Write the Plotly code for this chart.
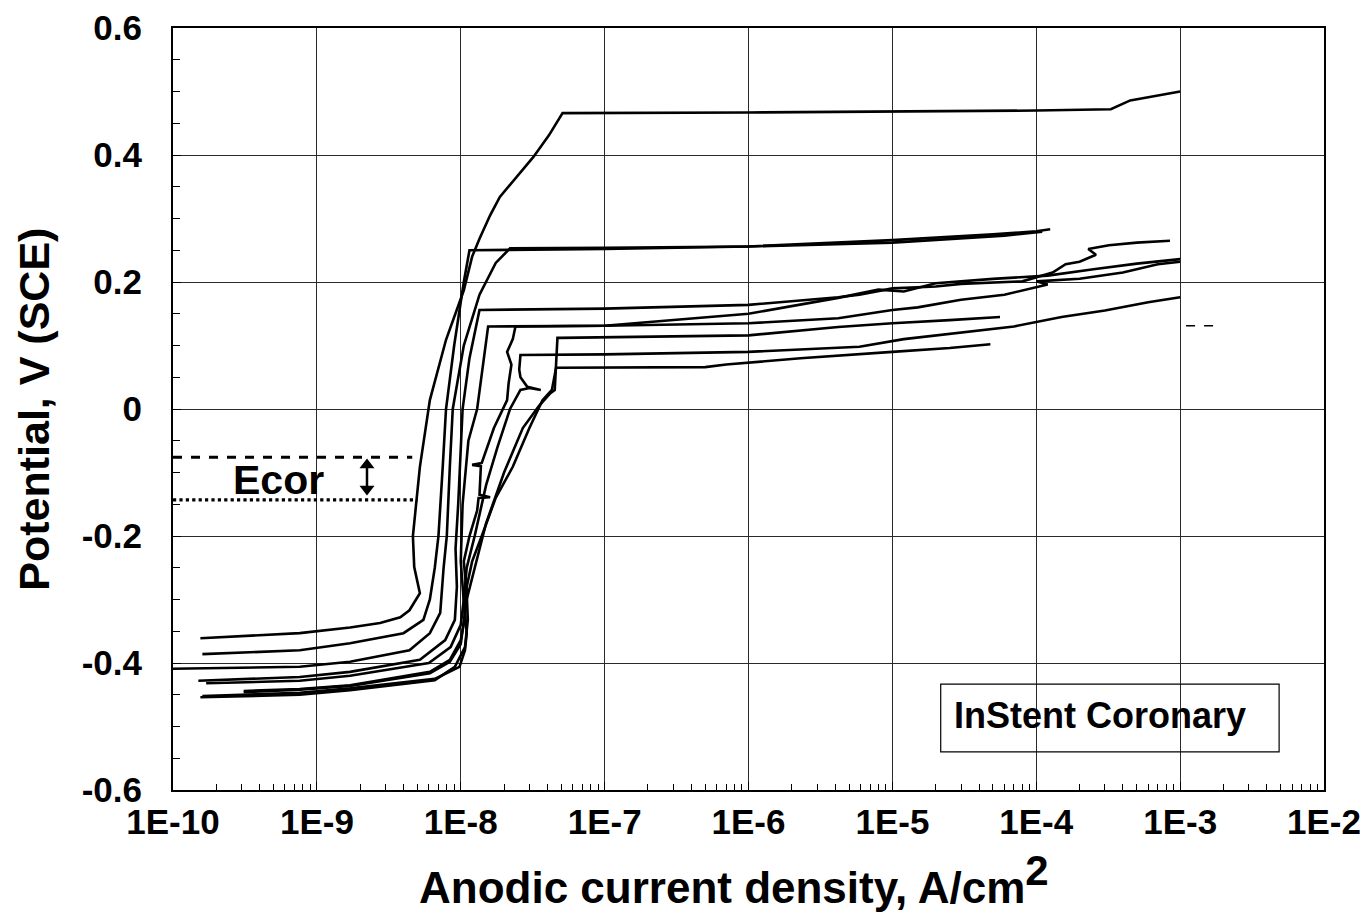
import plotly.graph_objects as go

# ---------------- tick labels ----------------
x_tickvals = [1e-10, 1e-9, 1e-8, 1e-7, 1e-6, 1e-5, 1e-4, 1e-3, 1e-2]
x_ticktext = ["1E-10", "1E-9", "1E-8", "1E-7", "1E-6", "1E-5", "1E-4", "1E-3", "1E-2"]
y_tickvals = [-0.6, -0.4, -0.2, 0, 0.2, 0.4, 0.6]
y_ticktext = ["-0.6", "-0.4", "-0.2", "0", "0.2", "0.4", "0.6"]

# ---------------- polarization curves (current A/cm2, potential V) ----------------
c1_i = [1.55e-10, 7.6e-10, 1.7e-9, 2.75e-9, 3.8e-9, 4.4e-9, 5.2e-9, 4.75e-9, 4.65e-9, 5.2e-9, 6.1e-9,
        7.9e-9, 1.05e-8, 1.2e-8, 1.35e-8, 1.6e-8, 1.87e-8, 2.5e-8, 3.2e-8, 4.1e-8, 5.1e-8, 1e-6, 1e-5, 1e-4, 3.3e-4,
        4.0e-4, 4.5e-4, 6e-4, 8e-4, 1e-3]
c1_v = [-0.361, -0.353, -0.344, -0.337, -0.328, -0.317, -0.29, -0.249, -0.20, -0.091, 0.014,
        0.109, 0.187, 0.240, 0.268, 0.305, 0.334, 0.368, 0.397, 0.431, 0.466, 0.467, 0.468, 0.470, 0.472,
        0.480, 0.486, 0.491, 0.496, 0.500]

c2_i = [1.6e-10, 7.6e-10, 1.7e-9, 4e-9, 5.5e-9, 6.1e-9, 6.6e-9, 7.0e-9, 7.5e-9, 7.9e-9, 9e-9,
        1.05e-8, 1.15e-8, 1e-7, 1e-6, 1e-5, 5e-5, 1e-4, 1.25e-4]
c2_v = [-0.386, -0.380, -0.369, -0.353, -0.332, -0.30, -0.25, -0.20, -0.09, 0.0, 0.10,
        0.20, 0.25, 0.252, 0.256, 0.266, 0.275, 0.280, 0.283]

c3_i = [1e-10, 7.6e-10, 1.7e-9, 4.4e-9, 6.1e-9, 7.2e-9, 7.6e-9, 8.0e-9, 8.4e-9, 8.8e-9, 1.05e-8,
        1.35e-8, 1.75e-8, 2.2e-8, 1e-7, 1e-6, 1e-5, 6e-5, 1.1e-4]
c3_v = [-0.409, -0.406, -0.398, -0.38, -0.353, -0.321, -0.25, -0.20, -0.09, 0.0, 0.10,
        0.18, 0.23, 0.253, 0.254, 0.256, 0.262, 0.273, 0.279]

c4_i = [1.5e-10, 7.6e-10, 1.7e-9, 5.2e-9, 7.8e-9, 9.1e-9, 9.4e-9, 9.2e-9, 9.6e-9, 1.03e-8, 1.15e-8,
        1.3e-8, 1.35e-8, 1e-7, 1e-6, 4.2e-6, 5.9e-6, 1e-5, 2e-5, 3e-5, 8e-5, 1.3e-4,
        1.6e-4, 2e-4, 2.6e-4, 2.3e-4, 3.2e-4, 5e-4, 8.5e-4]
c4_v = [-0.428, -0.422, -0.414, -0.395, -0.364, -0.332, -0.28, -0.22, -0.15, 0.0, 0.08,
        0.14, 0.156, 0.158, 0.164, 0.176, 0.180, 0.190, 0.193, 0.197, 0.201, 0.215,
        0.228, 0.232, 0.243, 0.252, 0.258, 0.262, 0.265]

c5_i = [3.1e-10, 7.6e-10, 1.7e-9, 6.1e-9, 8.4e-9, 1.0e-8, 1.07e-8, 1.03e-8, 1.0e-8, 1.03e-8, 1.13e-8,
        1.3e-8, 1.45e-8, 1.55e-8, 1e-7, 1e-6, 4.2e-6, 1e-5, 1.5e-5, 3e-5, 6e-5, 1.2e-4,
        1.0e-4, 2e-4, 4e-4, 7e-4, 1e-3]
c5_v = [-0.444, -0.441, -0.435, -0.414, -0.395, -0.364, -0.328, -0.28, -0.24, -0.15, -0.05,
        0.0, 0.08, 0.13, 0.131, 0.135, 0.143, 0.156, 0.160, 0.172, 0.180, 0.196,
        0.201, 0.205, 0.215, 0.228, 0.232]

c6_i = [1.55e-10, 7.6e-10, 1.7e-9, 6.6e-9, 9.1e-9, 1.07e-8, 1.12e-8, 1.1e-8, 1.05e-8, 1.15e-8, 1.3e-8,
        1.33e-8, 1.6e-8, 1.35e-8, 1.38e-8, 1.2e-8, 1.4e-8, 1.7e-8, 2.1e-8, 2.15e-8, 2.25e-8,
        2.1e-8, 2.3e-8, 2.4e-8, 1e-7, 1e-6, 4.2e-6, 8e-6, 1.2e-5, 2e-5, 5e-5, 1.2e-4,
        2.5e-4, 5e-4, 1e-3]
c6_v = [-0.454, -0.450, -0.443, -0.427, -0.406, -0.375, -0.332, -0.29, -0.24, -0.20, -0.16,
        -0.14, -0.139, -0.135, -0.09, -0.088, -0.085, -0.03, 0.014, 0.04, 0.07,
        0.09, 0.11, 0.13, 0.131, 0.150, 0.175, 0.188, 0.185, 0.198, 0.205, 0.210,
        0.220, 0.229, 0.236]

c7_i = [1.7e-10, 7.6e-10, 1.7e-9, 6e-9, 8.5e-9, 1.0e-8, 1.05e-8, 1.1e-8, 1.25e-8, 1.5e-8, 1.8e-8,
        2.2e-8, 2.6e-8, 3.0e-8, 3.6e-8, 2.9e-8, 2.6e-8, 2.55e-8, 2.6e-8, 1e-7, 1e-6,
        5.9e-6, 1.2e-5, 3e-5, 7e-5, 1.5e-4, 3e-4, 6e-4, 1e-3]
c7_v = [-0.432, -0.428, -0.420, -0.400, -0.375, -0.34, -0.30, -0.25, -0.20, -0.12, -0.06,
        0.0, 0.03, 0.033, 0.03, 0.035, 0.05, 0.062, 0.085, 0.086, 0.090,
        0.098, 0.110, 0.120, 0.130, 0.145, 0.155, 0.168, 0.176]

c8_i = [1.6e-10, 7.6e-10, 1.7e-9, 6.6e-9, 9.8e-9, 1.07e-8, 1.1e-8, 1.07e-8, 1.1e-8, 1.2e-8, 1.4e-8,
        1.75e-8, 2.3e-8, 3.0e-8, 3.7e-8, 4.3e-8, 4.6e-8, 5e-7, 7e-7, 2.3e-6, 1e-5,
        2.5e-5, 4.8e-5]
c8_v = [-0.452, -0.447, -0.440, -0.425, -0.406, -0.38, -0.353, -0.32, -0.28, -0.24, -0.20,
        -0.14, -0.091, -0.03, 0.014, 0.03, 0.065, 0.066, 0.070, 0.080, 0.090,
        0.096, 0.102]

c9_i = [3.1e-10, 7.6e-10, 1.7e-9, 6.1e-9, 8.4e-9, 1.0e-8, 1.1e-8, 1.25e-8, 1.5e-8, 2.0e-8, 2.7e-8,
        3.5e-8, 4.2e-8, 4.5e-8, 4.6e-8, 4.7e-8, 4.9e-8, 1e-6, 4.2e-6, 1e-5, 2.5e-5, 5.6e-5]
c9_v = [-0.446, -0.442, -0.436, -0.416, -0.398, -0.37, -0.30, -0.25, -0.18, -0.10, -0.03,
        0.005, 0.025, 0.03, 0.07, 0.112, 0.112, 0.116, 0.129, 0.135, 0.140, 0.145]

# small stray trace segment right of 1E-3
s1_i = [1.1e-3, 1.7e-3]
s1_v = [0.131, 0.131]

# Ecor marker lines and double arrow
ecor_hi_i = [1e-10, 4.6e-9]
ecor_hi_v = [-0.076, -0.076]
ecor_lo_i = [1e-10, 5.0e-9]
ecor_lo_v = [-0.143, -0.143]
arrow_i = [2.23e-9, 2.23e-9]
arrow_v = [-0.088, -0.126]

curves = [(c1_i, c1_v), (c2_i, c2_v), (c3_i, c3_v), (c4_i, c4_v), (c5_i, c5_v),
          (c6_i, c6_v), (c7_i, c7_v), (c8_i, c8_v), (c9_i, c9_v)]

FONT = "Liberation Sans, Arial, Helvetica, sans-serif"

fig = go.Figure()
for ci, cv in curves:
    fig.add_trace(go.Scatter(x=ci, y=cv, mode="lines",
                             line=dict(color="black", width=2.6),
                             showlegend=False, hoverinfo="skip"))
fig.add_trace(go.Scatter(x=s1_i, y=s1_v, mode="lines",
                         line=dict(color="black", width=1.5, dash="dash"),
                         showlegend=False, hoverinfo="skip"))
fig.add_trace(go.Scatter(x=ecor_hi_i, y=ecor_hi_v, mode="lines",
                         line=dict(color="black", width=2.8, dash="dash"),
                         showlegend=False, hoverinfo="skip"))
fig.add_trace(go.Scatter(x=ecor_lo_i, y=ecor_lo_v, mode="lines",
                         line=dict(color="black", width=3.2, dash="dot"),
                         showlegend=False, hoverinfo="skip"))
fig.add_trace(go.Scatter(x=arrow_i, y=arrow_v, mode="lines+markers",
                         line=dict(color="black", width=2.5),
                         marker=dict(symbol=["triangle-up", "triangle-down"], size=13,
                                     color="black"),
                         showlegend=False, hoverinfo="skip"))

minor_x = [k * 10.0 ** e for e in range(-10, -2) for k in range(2, 10)]

fig.update_layout(
    width=1366, height=921,
    margin=dict(l=173, r=42, t=28, b=131, autoexpand=False),
    paper_bgcolor="white", plot_bgcolor="white",
    font=dict(family=FONT, color="black"),
    xaxis=dict(
        type="log", range=[-10, -2], automargin=False,
        tickmode="array", tickvals=x_tickvals, ticktext=x_ticktext,
        ticks="inside", ticklen=8, tickwidth=1, tickcolor="black",
        showgrid=True, gridcolor="#2a2a2a", gridwidth=1,
        showline=True, linecolor="black", linewidth=2, mirror=True,
        zeroline=False,
        minor=dict(ticks="inside", ticklen=6, tickcolor="black",
                   tickvals=minor_x, showgrid=False),
        tickfont=dict(family=FONT, size=35, color="black", weight="bold"),
        ticklabelstandoff=0,
    ),
    yaxis=dict(
        range=[-0.6, 0.6], automargin=False,
        tickmode="array", tickvals=y_tickvals, ticktext=y_ticktext,
        ticks="inside", ticklen=8, tickwidth=1, tickcolor="black",
        showgrid=True, gridcolor="#2a2a2a", gridwidth=1,
        showline=True, linecolor="black", linewidth=2, mirror=True,
        zeroline=False,
        minor=dict(ticks="inside", ticklen=7, tickcolor="black",
                   dtick=0.05, showgrid=False),
        tickfont=dict(family=FONT, size=35, color="black", weight="bold"),
        ticklabelstandoff=22,
    ),
    shapes=[
        dict(type="rect", xref="paper", yref="paper",
             x0=0.667, x1=0.961, y0=0.050, y1=0.139,
             line=dict(color="black", width=1.2), fillcolor="rgba(0,0,0,0)"),
    ],
    annotations=[
        dict(text="<b>Anodic current density, A/cm<sup><span style='font-size:42px'>2</span></sup></b>",
             xref="paper", yref="paper", x=0.487, y=-0.117,
             xanchor="center", yanchor="middle", showarrow=False,
             font=dict(family=FONT, size=44, color="black")),
        dict(text="<b>Potential, V (SCE)</b>",
             xref="paper", yref="paper", x=-0.121, y=0.5, textangle=-90,
             xanchor="center", yanchor="middle", showarrow=False,
             font=dict(family=FONT, size=43, color="black")),
        dict(text="<b>Ecor</b>", xref="paper", yref="paper", x=0.092, y=0.407,
             xanchor="center", yanchor="middle", showarrow=False,
             font=dict(family=FONT, size=41, color="black")),
        dict(text="<b>InStent Coronary</b>", xref="paper", yref="paper",
             x=0.805, y=0.0984, xanchor="center", yanchor="middle", showarrow=False,
             font=dict(family=FONT, size=36, color="black")),
    ],
)

fig.write_html("out.html")
